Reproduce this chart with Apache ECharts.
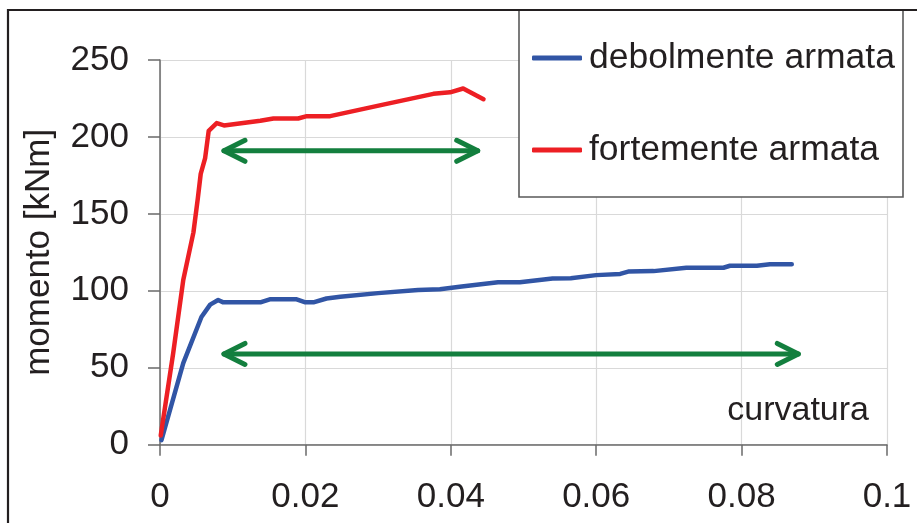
<!DOCTYPE html>
<html>
<head>
<meta charset="utf-8">
<script src="https://cdn.jsdelivr.net/npm/echarts@6/dist/echarts.min.js"></script>
<style>
  html, body { margin: 0; padding: 0; background: #fff; }
  #chart { width: 917px; height: 523px; }
</style>
</head>
<body>
<div id="chart"></div>
<script>
// Moment–curvature curves for two reinforced sections
const seriesNames = ['debolmente armata', 'fortemente armata'];

// [curvatura, momento kNm]
const weakData = [
  [0.0002, 3], [0.0032, 53], [0.0057, 83], [0.0069, 91], [0.0080, 94],
  [0.0087, 92.5], [0.0138, 92.5], [0.0151, 94.5], [0.0188, 94.5], [0.0200, 92.5],
  [0.0211, 92.5], [0.0229, 95], [0.0248, 96.2], [0.0300, 98.5], [0.0355, 100.5],
  [0.0385, 101], [0.0415, 102.8], [0.0465, 105.5], [0.0495, 105.5], [0.0540, 108],
  [0.0565, 108.2], [0.0600, 110.2], [0.0633, 111], [0.0644, 112.5], [0.0679, 112.8],
  [0.0724, 115], [0.0775, 115], [0.0784, 116.3], [0.0821, 116.3], [0.0839, 117.3],
  [0.0869, 117.3]
];

const strongData = [
  [0.0001, 6], [0.0018, 59], [0.0032, 107], [0.0046, 138], [0.0052, 160],
  [0.0056, 176], [0.0062, 186], [0.0067, 204], [0.0078, 209], [0.0088, 207.5],
  [0.0138, 210.5], [0.0156, 212], [0.0190, 212], [0.0202, 213.5], [0.0234, 213.5],
  [0.0307, 221], [0.0376, 228], [0.0399, 229], [0.0417, 231.5], [0.0445, 224.5]
];

const xTickLabels = ['0', '0.02', '0.04', '0.06', '0.08', '0.1'];
const yTickLabels = ['0', '50', '100', '150', '200', '250'];

// Ductility ranges shown as double-headed arrows: [from, to] curvature at a given moment
const arrowFrom = [0.0088, 0.0088];
const arrowTo = [0.0437, 0.0878];
const arrowAt = [191, 59];

const FONT = '"Liberation Sans", Arial, sans-serif';
const AXIS_COLOR = '#6a6a6a';
const GRID_COLOR = '#d9d9d9';
const GREEN = '#137f3e';

const chart = echarts.init(document.getElementById('chart'), null, { renderer: 'canvas' });

const option = {
  animation: false,
  backgroundColor: '#ffffff',
  textStyle: { fontFamily: FONT },
  grid: { left: 160, right: 30, top: 60, bottom: 78.3, containLabel: false },
  xAxis: {
    type: 'value',
    min: 0, max: 0.1, interval: 0.02,
    axisLine: { show: true, onZero: false, lineStyle: { color: AXIS_COLOR, width: 1.5 } },
    axisTick: { show: true, length: 11, inside: false, lineStyle: { color: AXIS_COLOR, width: 1.5 } },
    axisLabel: {
      margin: 35, fontSize: 35, color: '#231f20', fontFamily: FONT,
      formatter: v => xTickLabels[Math.round(v / 0.02)]
    },
    splitLine: { show: true, lineStyle: { color: GRID_COLOR, width: 1.2 } }
  },
  yAxis: {
    type: 'value',
    min: 0, max: 250, interval: 50,
    name: 'momento [kNm]',
    nameLocation: 'middle',
    nameGap: 103,
    nameRotate: 90,
    nameTextStyle: { fontSize: 35, color: '#231f20', fontFamily: FONT },
    axisLine: { show: true, lineStyle: { color: AXIS_COLOR, width: 1.5 } },
    axisTick: { show: true, length: 12, inside: false, lineStyle: { color: AXIS_COLOR, width: 1.5 } },
    axisLabel: {
      margin: 31, fontSize: 35, color: '#231f20', fontFamily: FONT,
      formatter: v => yTickLabels[Math.round(v / 50)]
    },
    splitLine: { show: true, lineStyle: { color: GRID_COLOR, width: 1.2 } }
  },
  legend: {
    orient: 'vertical',
    left: 532, top: 38,
    padding: 0,
    itemWidth: 50, itemHeight: 5,
    itemGap: 52,
    icon: 'roundRect',
    z: 20,
    textStyle: { fontSize: 35.5, lineHeight: 40, color: '#231f20', fontFamily: FONT, padding: [0, 0, 0, 2] },
    data: seriesNames
  },
  series: [
    {
      name: seriesNames[0], type: 'line', data: weakData,
      showSymbol: false, symbol: 'none', z: 4,
      color: '#3155a5',
      lineStyle: { color: '#3155a5', width: 4.5, cap: 'round', join: 'round' }
    },
    {
      name: seriesNames[1], type: 'line', data: strongData,
      showSymbol: false, symbol: 'none', z: 4,
      color: '#ed1f24',
      lineStyle: { color: '#ed1f24', width: 4.5, cap: 'round', join: 'round' }
    }
  ]
};

chart.setOption(option);

// Frame, legend box, axis caption and the ductility arrows
const graphics = [
  {
    type: 'rect', z: 30, silent: true,
    shape: { x: 8, y: 10, width: 960, height: 600 },
    style: { fill: 'none', stroke: '#231f20', lineWidth: 2.2 }
  },
  {
    type: 'rect', z: 10, silent: true,
    shape: { x: 519, y: 10, width: 384, height: 187 },
    style: { fill: '#ffffff', stroke: '#5a5a5a', lineWidth: 1.6 }
  },
  {
    type: 'text', z: 10, silent: true,
    x: 869, y: 411,
    style: {
      text: 'curvatura', fontSize: 34, fontFamily: FONT, fill: '#231f20',
      align: 'right', verticalAlign: 'middle'
    }
  }
];

for (let i = 0; i < arrowFrom.length; i++) {
  const a = chart.convertToPixel({ gridIndex: 0 }, [arrowFrom[i], arrowAt[i]]);
  const b = chart.convertToPixel({ gridIndex: 0 }, [arrowTo[i], arrowAt[i]]);
  const headL = 21, headH = 10.5;
  const arrowStyle = { stroke: GREEN, lineWidth: 5, lineCap: 'round', lineJoin: 'round', fill: 'none' };
  graphics.push(
    { type: 'polyline', z: 8, silent: true, shape: { points: [a, b] }, style: arrowStyle },
    { type: 'polyline', z: 8, silent: true,
      shape: { points: [[a[0] + headL, a[1] - headH], a, [a[0] + headL, a[1] + headH]] }, style: arrowStyle },
    { type: 'polyline', z: 8, silent: true,
      shape: { points: [[b[0] - headL, b[1] - headH], b, [b[0] - headL, b[1] + headH]] }, style: arrowStyle }
  );
}

chart.setOption({ graphic: graphics });
</script>
</body>
</html>
